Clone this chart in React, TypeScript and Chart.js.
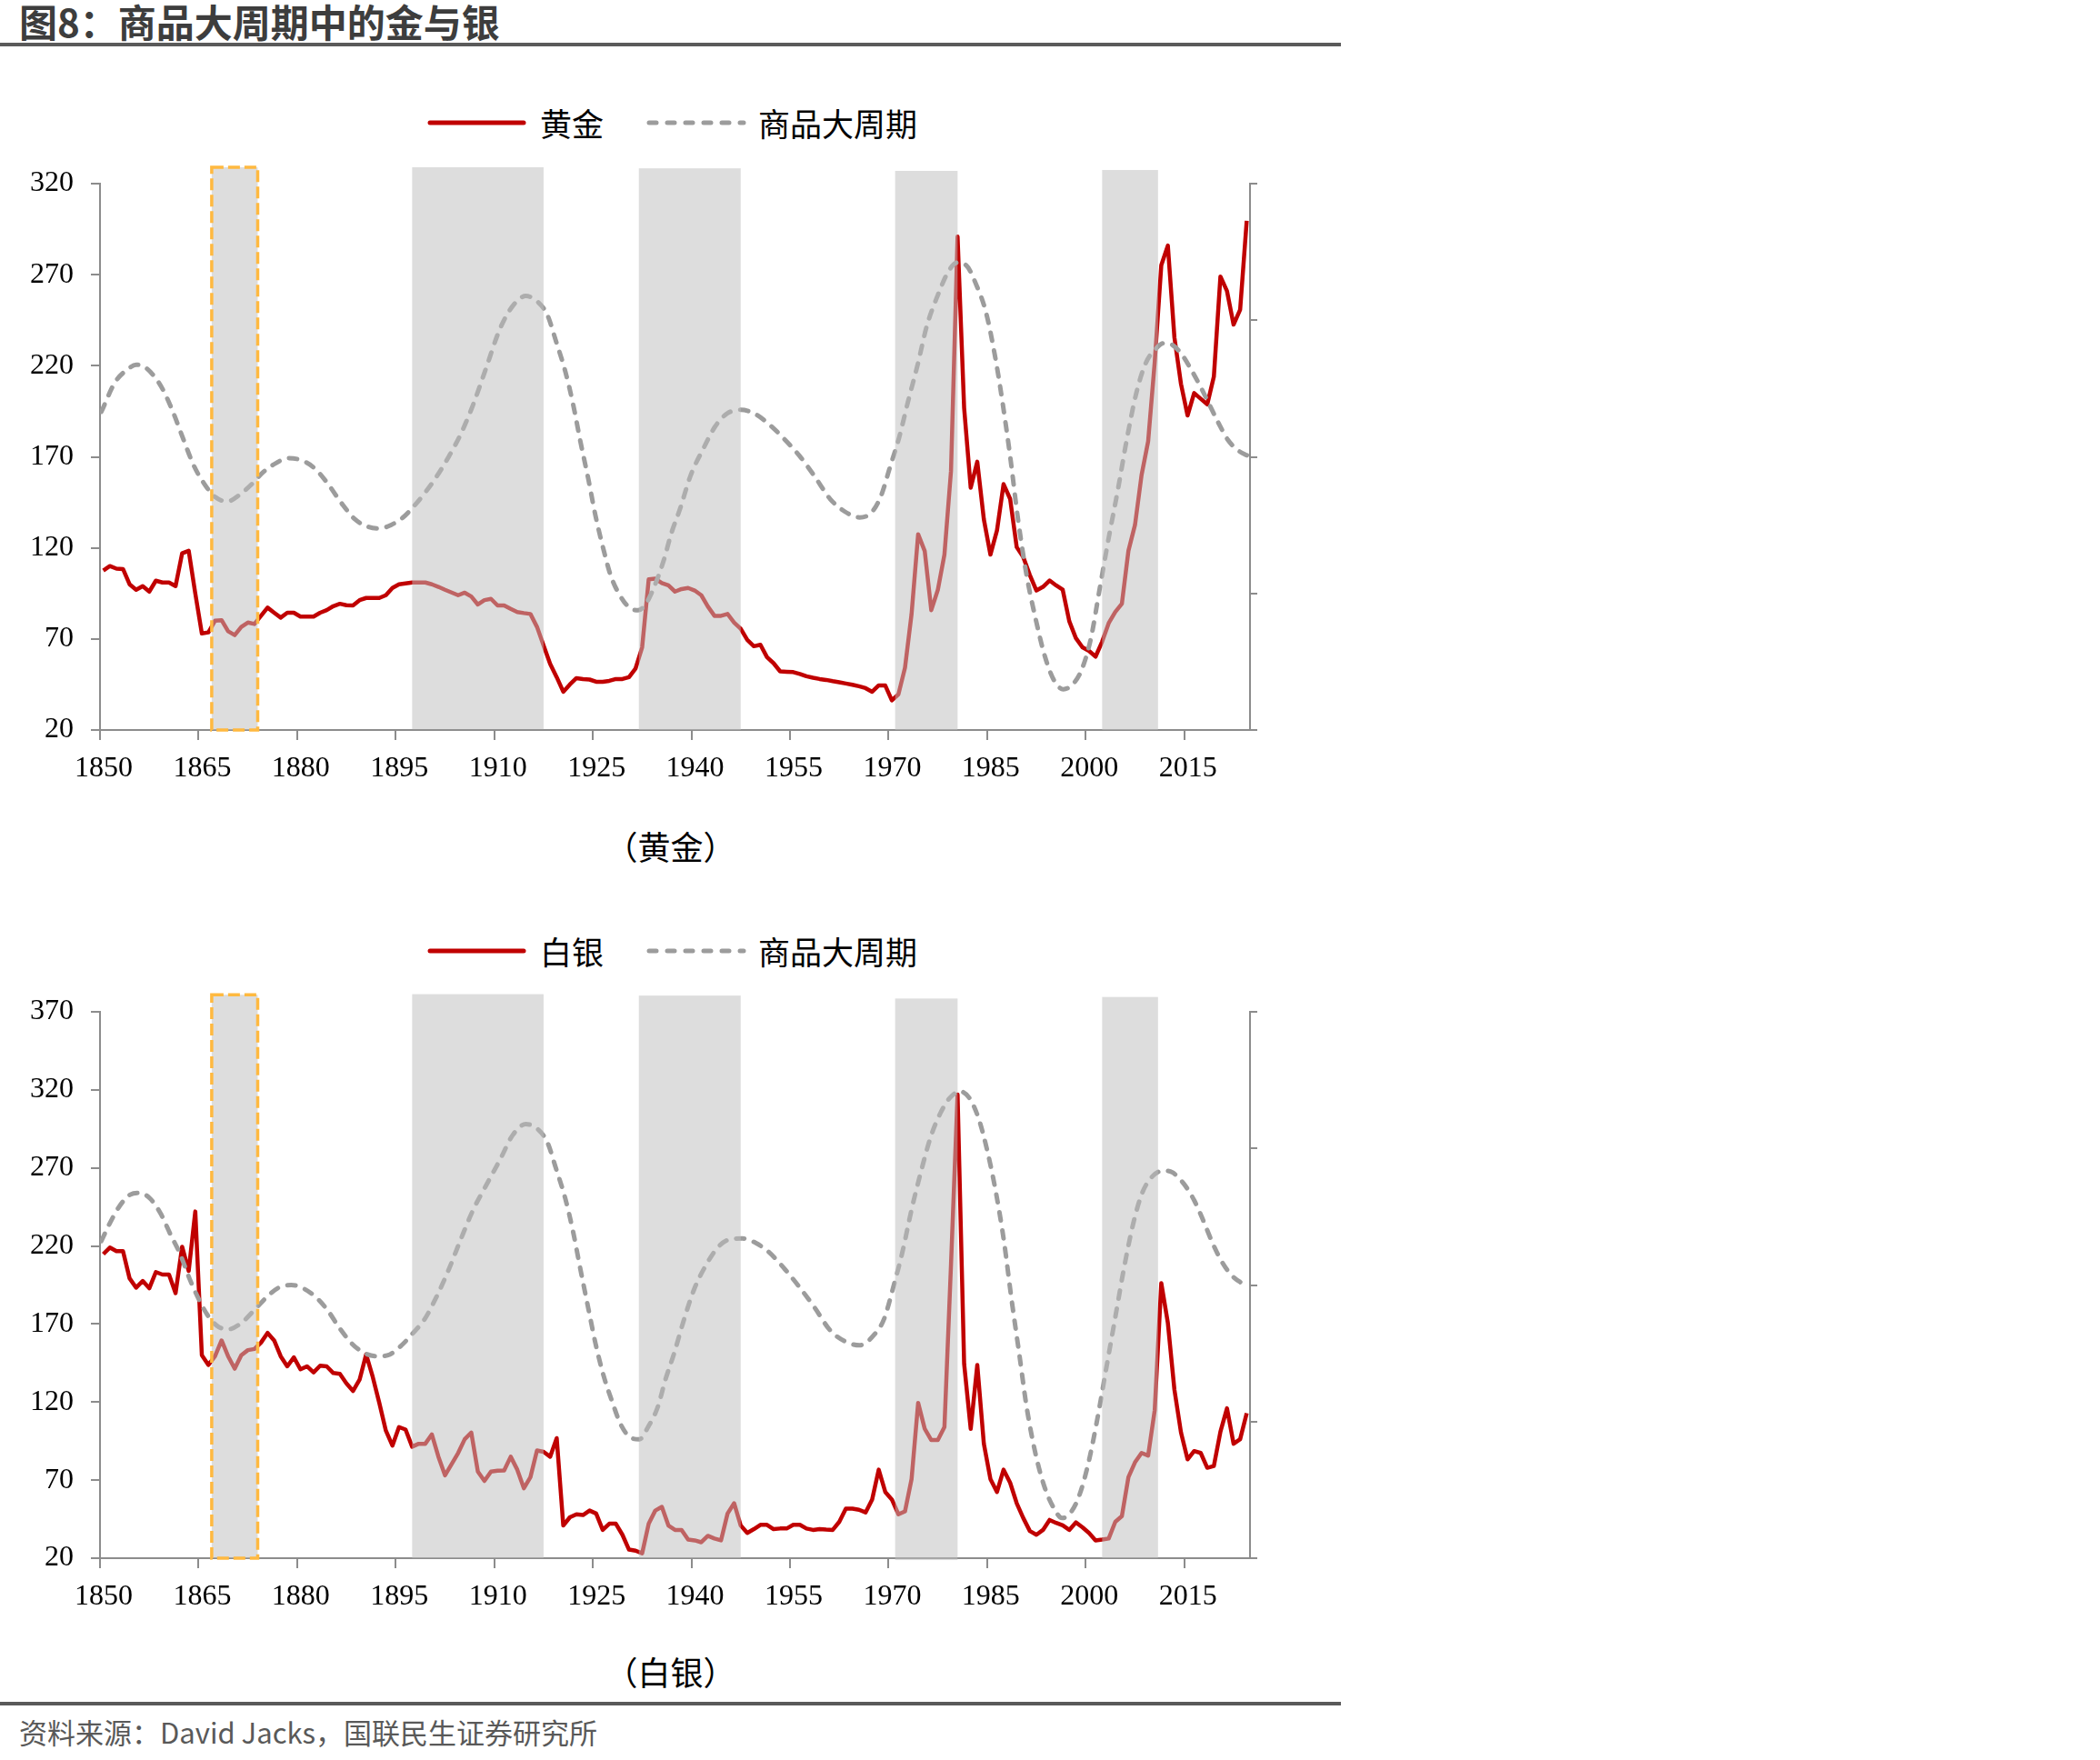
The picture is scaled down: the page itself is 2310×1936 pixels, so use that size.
import React, { useEffect, useRef } from "react";
import { Chart, registerables } from "chart.js";

Chart.register(...registerables);

// Annual series start year; each annual value sits in the middle of its year slot.
const FIRST_YEAR = 1850;
const AXIS_MIN = 1850;
const AXIS_MAX = 2025;

// Year labels shown on the horizontal axis
const yearTicks = [1850, 1865, 1880, 1895, 1910, 1925, 1940, 1955, 1970, 1985, 2000, 2015];

// Gold index, 1850–2024
const goldIndex = [
  107.6, 110, 108.6, 108.4, 100, 97, 99, 96, 102, 101,
  101, 99, 117, 118.4, 95, 73, 73.6, 80, 80.3, 74.2,
  72.1, 76.6, 79, 78.2, 82.7, 87.2, 84.4, 81.7, 84.4, 84.4,
  82.3, 82.3, 82.3, 84.4, 85.8, 88, 89.3, 88.5, 88.4, 91.3,
  92.5, 92.5, 92.5, 94, 98, 100, 100.5, 101, 101, 101,
  100, 98.6, 97, 95.5, 94, 95.4, 93.3, 88.9, 91.3, 92,
  88.4, 88.4, 86.5, 84.8, 84.2, 83.7, 76.6, 66.4, 56.3, 49,
  41, 45, 48.5, 48, 47.7, 46.5, 46.5, 47, 48, 48,
  49, 53.8, 65.4, 102.7, 103.1, 100.7, 99.4, 96, 97.4, 98,
  96.6, 94, 87.8, 82.7, 82.7, 83.7, 79, 75.6, 69.5, 66,
  66.8, 60, 56.7, 52.2, 52, 51.8, 50.8, 49.5, 48.7, 48,
  47.5, 46.8, 46.2, 45.5, 44.8, 44, 43, 41, 44.5, 44.4,
  36.3, 39.6, 54.2, 83.7, 127.5, 118.3, 85.8, 97, 116.3, 162.2,
  290.9, 196.8, 153, 167.3, 135.7, 116.3, 129.6, 155, 146.9, 120.4,
  114.9, 105.1, 96.6, 98.6, 102.1, 99.4, 97, 79.7, 70.5, 65.4,
  63.4, 60.3, 68.5, 78.7, 84.8, 89.3, 118.4, 132.6, 160, 178.5,
  222, 275.2, 286, 235.5, 210, 192.7, 205, 201.9, 198.8, 214,
  269, 261, 242.6, 250.8, 299.6,
];

// Silver index, 1850–2024
const silverIndex = [
  214.8, 219, 216.7, 216.7, 199.3, 193.3, 197.6, 192.9, 203.3, 201.7,
  201.7, 189.8, 219.5, 204, 242.1, 150, 143.8, 149.3, 159.5, 149.3,
  141.4, 150, 153.3, 154, 158.1, 164.3, 159.5, 149.3, 142.9, 148.6,
  141, 142.9, 139, 143.3, 142.9, 138.6, 138.1, 131.9, 127.1, 134.3,
  150.5, 136.2, 119.5, 101.7, 92.1, 104, 102.4, 91.4, 93.3, 93.3,
  99.3, 85, 73.1, 80.2, 87.4, 96.2, 100.5, 75.5, 69.5, 75.5,
  76, 76.2, 85, 76.7, 64.8, 71.9, 89, 88.1, 85, 96.9,
  40.9, 46.2, 48.1, 47.6, 50.5, 48.6, 38.1, 42.1, 42.1, 35,
  25.5, 24.8, 23.1, 42.1, 50.5, 52.9, 40.9, 38.1, 38.1, 31.9,
  31.4, 30.2, 34.3, 32.6, 31.4, 48.6, 55.2, 40.9, 36.2, 38.6,
  41.4, 41.4, 38.6, 39, 39, 41.4, 41.4, 39, 38.1, 38.6,
  38.3, 38.1, 43.3, 51.7, 51.7, 51, 49.3, 57.6, 76.7, 62.4,
  57.6, 48.1, 50, 70.7, 119.5, 102.9, 95.7, 95.7, 104, 208,
  317, 144.5, 102.9, 143.8, 93.3, 70.7, 62.4, 76.7, 68.3, 55.2,
  45.7, 37.4, 35, 38.1, 44.5, 42.6, 41, 38.1, 42.9, 39.8,
  36.2, 31.4, 31.9, 32.6, 43.3, 46.9, 71.9, 81.4, 87.4, 85.7,
  114.8, 196.2, 170.7, 127.9, 100.5, 83.3, 88.6, 87.4, 77.9, 79,
  101, 116, 93.3, 96.2, 112.9,
];

// Commodity super-cycle curve (secondary axis), sampled [year, value]
const goldCycle: [number, number][] = [
  [1850.2, 194.7], [1852.3, 211], [1854.2, 218], [1855.5, 220.6], [1856.7, 219.6], [1858.3, 214],
  [1859.7, 206], [1861.1, 194.7], [1862.7, 179.5], [1864.3, 165], [1865.9, 155], [1867.5, 148],
  [1869.4, 145.5], [1871.2, 149], [1873.1, 155], [1874.9, 161.8], [1876.8, 166.6], [1878.6, 169.3],
  [1880.5, 168.3], [1882.5, 164.2], [1884.6, 155.6], [1886.7, 144.8], [1888.8, 135.7], [1890.8, 131.6],
  [1892.5, 130.6], [1894.3, 132.6], [1896.1, 136.7], [1897.5, 141.8], [1899.4, 150], [1901.2, 159],
  [1903.1, 170.3], [1904.9, 182.5], [1906.8, 198.8], [1908.6, 217.1], [1910.9, 240.6], [1912.8, 252.8],
  [1914.8, 258.3], [1916.7, 254.8], [1918.1, 247.7], [1919.4, 233.4], [1920.8, 217], [1922, 198.8],
  [1923.1, 178.5], [1924.3, 158], [1925.4, 137.7], [1926.6, 119.4], [1927.7, 105], [1929.1, 94],
  [1930.7, 86.8], [1931.9, 85.8], [1933.2, 90], [1934.6, 101], [1935.8, 113.3], [1936.9, 127.5],
  [1938.3, 141.8], [1939.9, 160], [1941.8, 174.4], [1943.6, 186.6], [1945.4, 193.7], [1947.5, 195.8],
  [1949.6, 193.7], [1951.9, 187.6], [1954.2, 179.5], [1956.5, 170.3], [1958.8, 159], [1961.1, 146.9],
  [1963.4, 139.8], [1965.6, 136.7], [1967.5, 139.8], [1968.9, 149], [1970.2, 164.2], [1971.6, 180.5],
  [1973, 200.9], [1974.4, 220.2], [1975.8, 241.6], [1977.4, 257.9], [1979, 271.1], [1980.4, 276.6],
  [1981.8, 275.2], [1983.4, 264], [1984.8, 249.7], [1986.2, 225.3], [1987.3, 200.9], [1988.5, 170.3],
  [1989.7, 135.7], [1991, 105.1], [1992.4, 80.7], [1993.8, 60.3], [1995.2, 47.1], [1996.6, 42.4],
  [1998, 45], [1999.4, 53.2], [2000.8, 70.5], [2002.1, 97], [2003.5, 125.5], [2004.9, 152],
  [2006.3, 180.5], [2007.7, 205], [2009.1, 221.2], [2010.7, 229.4], [2011.9, 232.4], [2013.2, 231.4],
  [2014.6, 226.3], [2016, 218.2], [2017.4, 209], [2018.8, 198.8], [2020.2, 188.6], [2021.6, 179.5],
  [2023, 174], [2024.8, 170.3],
];

const silverCycle: [number, number][] = [
  [1850.2, 223.1], [1851.4, 233.8], [1853, 245.7], [1854.6, 252.9], [1856, 254], [1857.6, 250.5],
  [1859.2, 241], [1860.8, 226.7], [1862.2, 214.8], [1863.6, 199.3], [1865, 186.2], [1866.4, 175.5],
  [1868, 168.3], [1869.6, 166.7], [1871.5, 170.7], [1873.5, 179], [1875.4, 187.4], [1877.2, 193.3],
  [1879.1, 195], [1880.9, 192.9], [1882.8, 187.4], [1884.6, 179], [1886.5, 167.1], [1888.3, 157.6],
  [1890.1, 151.7], [1892.2, 149.3], [1894.1, 150.5], [1895.9, 156.4], [1897.5, 163.6], [1899.4, 173.1],
  [1901.2, 187.4], [1903.1, 205.2], [1904.9, 224.3], [1906.8, 243.3], [1908.6, 257.6], [1910.9, 275.5],
  [1912.8, 291], [1914.8, 298.1], [1916.7, 294.5], [1918.1, 286.2], [1919.4, 269.5], [1920.8, 250.5],
  [1922, 229], [1923.1, 205.2], [1924.3, 180.2], [1925.4, 157.6], [1926.6, 137.4], [1928, 119.5],
  [1929.3, 105.2], [1930.9, 96.9], [1932.1, 96.2], [1933.4, 104], [1934.9, 117.1], [1936, 133.8],
  [1937.4, 151.7], [1938.8, 171.9], [1940.4, 192.1], [1942.2, 207.6], [1944.1, 219.5], [1945.9, 224.3],
  [1947.7, 224.8], [1949.8, 221.9], [1951.8, 216], [1954.2, 205.2], [1956.5, 193.3], [1958.8, 180.2],
  [1961.1, 166], [1963.4, 158.8], [1965.6, 156.4], [1967.9, 163.6], [1969.3, 173.1], [1970.7, 193.3],
  [1972.1, 216], [1973.5, 243.3], [1974.9, 267.1], [1976.5, 291], [1977.9, 305.2], [1979.3, 314.8],
  [1980.9, 319], [1982.3, 314.8], [1983.7, 301.7], [1985, 281.4], [1986.4, 252.9], [1987.6, 221.9],
  [1988.7, 186.2], [1989.9, 150.5], [1991, 117.1], [1992.4, 86.2], [1993.8, 64.8], [1995.2, 51.7],
  [1996.4, 45.7], [1997.5, 48.1], [1998.9, 58.8], [2000.3, 79], [2001.7, 107.6], [2003.1, 141],
  [2004.5, 174.3], [2005.8, 205.2], [2007.2, 233.8], [2008.6, 254], [2010.2, 264.8], [2011.9, 268.3],
  [2013.2, 267.1], [2014.9, 260], [2016.5, 249.3], [2017.9, 236.2], [2019.3, 221.9], [2020.7, 210],
  [2022.1, 201.7], [2023.5, 196.9], [2024.8, 194.5],
];

// Shaded phases on the year axis; the first one is outlined
const phaseSpans: [number, number][] = [
  [1867, 1874], [1897.5, 1917.5], [1932, 1947.5], [1971, 1980.5], [2002.5, 2011],
];
const goldPhaseTops = [329, 329, 328.4, 327, 327.5];
const goldPhaseBottoms = [20, 20.4, 20, 20, 20];
const silverPhaseTops = [380.9, 381.3, 380.4, 378.5, 379.5];
const silverPhaseBottoms = [20, 20, 20, 18.8, 20];

const RED = "#C00000";
const CYCLE_GREY = "#9C9C9C";
const AXIS_GREY = "#8C8C8C";
const CJK = '"Noto Sans CJK SC", "Noto Sans", sans-serif';
const SERIF = '"Liberation Serif", "DejaVu Serif", serif';

const FIG_W = 1475;
const PAD_TOP = 42;
const X_AXIS_H = 77;
const LEFT_AXIS_W = 110;
const RIGHT_AXIS_W = 100;

type PanelProps = {
  name: string;
  caption: string;
  values: number[];
  cycle: [number, number][];
  yMax: number;
  rightStep: number;
  phaseTops: number[];
  phaseBottoms: number[];
  legendY: number;
  canvasTop: number;
  areaH: number;
  captionY: number;
};

function Panel(p: PanelProps) {
  const ref = useRef<HTMLCanvasElement>(null);
  const canvasH = PAD_TOP + p.areaH + X_AXIS_H;

  useEffect(() => {
    const canvas = ref.current;
    if (!canvas) return;

    const shading = {
      id: "phaseShading",
      afterDatasetsDraw(chart: any) {
        const { ctx } = chart;
        const xs = chart.scales.x;
        const ys = chart.scales.y;
        ctx.save();
        phaseSpans.forEach(([a, b], i) => {
          const x0 = xs.getPixelForValue(a);
          const x1 = xs.getPixelForValue(b);
          const yt = ys.getPixelForValue(p.phaseTops[i]);
          const yb = ys.getPixelForValue(p.phaseBottoms[i]);
          ctx.fillStyle = "rgba(190,190,190,0.52)";
          ctx.fillRect(x0, yt, x1 - x0, yb - yt);
          if (i === 0) {
            ctx.strokeStyle = "#FFB940";
            ctx.lineWidth = 3.5;
            ctx.setLineDash([13, 5]);
            ctx.strokeRect(x0, yt, x1 - x0, yb - yt);
            ctx.setLineDash([]);
          }
        });
        ctx.restore();
      },
    };

    const tickFont = { family: SERIF, size: 32 };

    const chart = new Chart(canvas, {
      type: "line",
      data: {
        datasets: [
          {
            label: "商品大周期",
            data: p.cycle.map(([x, y]) => ({ x, y })),
            yAxisID: "y2",
            borderColor: CYCLE_GREY,
            borderWidth: 5,
            borderDash: [9, 11],
            borderCapStyle: "round",
            cubicInterpolationMode: "monotone",
            pointRadius: 0,
            fill: false,
          },
          {
            label: p.name,
            data: p.values.map((v, i) => ({ x: FIRST_YEAR + i + 0.5, y: v })),
            yAxisID: "y",
            borderColor: RED,
            borderWidth: 4.5,
            borderJoinStyle: "round",
            pointRadius: 0,
            tension: 0,
            fill: false,
          },
        ],
      },
      options: {
        responsive: false,
        animation: false,
        events: [],
        layout: { padding: { top: PAD_TOP, left: 0, right: 0, bottom: 0 } },
        plugins: {
          legend: { display: false },
          tooltip: { enabled: false },
          title: { display: false },
        },
        scales: {
          x: {
            type: "linear",
            min: AXIS_MIN,
            max: AXIS_MAX,
            afterFit: (s: any) => {
              s.height = X_AXIS_H;
            },
            afterBuildTicks: (s: any) => {
              s.ticks = yearTicks.map((value) => ({ value }));
            },
            ticks: {
              autoSkip: false,
              maxRotation: 0,
              minRotation: 0,
              labelOffset: 4,
              padding: 12,
              color: "#000",
              font: tickFont,
              callback: (v: any) => String(v),
            },
            grid: {
              drawOnChartArea: false,
              drawTicks: true,
              tickLength: 11,
              color: AXIS_GREY,
              lineWidth: 2,
            },
            border: { display: true, color: AXIS_GREY, width: 2 },
          },
          y: {
            type: "linear",
            position: "left",
            min: 20,
            max: p.yMax,
            afterFit: (s: any) => {
              s.width = LEFT_AXIS_W;
            },
            ticks: {
              stepSize: 50,
              padding: 19,
              color: "#000",
              font: tickFont,
              callback: (v: any) => String(v),
            },
            grid: {
              drawOnChartArea: false,
              drawTicks: true,
              tickLength: 10,
              color: AXIS_GREY,
              lineWidth: 2,
            },
            border: { display: true, color: AXIS_GREY, width: 2 },
          },
          y2: {
            type: "linear",
            position: "right",
            display: true,
            min: 20,
            max: p.yMax,
            afterFit: (s: any) => {
              s.width = RIGHT_AXIS_W;
            },
            ticks: { stepSize: p.rightStep, display: false },
            grid: {
              drawOnChartArea: false,
              drawTicks: true,
              tickLength: 8,
              color: AXIS_GREY,
              lineWidth: 2,
            },
            border: { display: true, color: AXIS_GREY, width: 2 },
          },
        },
      } as any,
      plugins: [shading],
    });

    return () => chart.destroy();
  }, []);

  const legendText: React.CSSProperties = {
    position: "absolute",
    top: p.legendY - 25,
    height: 50,
    lineHeight: "50px",
    fontSize: 35,
    fontFamily: CJK,
    color: "#000",
    whiteSpace: "nowrap",
  };

  return (
    <>
      <svg
        width={FIG_W}
        height={20}
        style={{ position: "absolute", left: 0, top: p.legendY - 10 }}
      >
        <line x1={473} y1={10} x2={576} y2={10} stroke={RED} strokeWidth={5} strokeLinecap="round" />
        <line
          x1={714}
          y1={10}
          x2={818}
          y2={10}
          stroke={CYCLE_GREY}
          strokeWidth={5}
          strokeLinecap="round"
          strokeDasharray="8 12"
        />
      </svg>
      <div style={{ ...legendText, left: 594 }}>{p.name}</div>
      <div style={{ ...legendText, left: 834 }}>商品大周期</div>
      <canvas
        ref={ref}
        width={FIG_W}
        height={canvasH}
        style={{ position: "absolute", left: 0, top: p.canvasTop, width: FIG_W, height: canvasH }}
      />
      <div
        style={{
          position: "absolute",
          left: 0,
          width: FIG_W,
          top: p.captionY - 25,
          height: 50,
          lineHeight: "50px",
          textAlign: "center",
          fontSize: 36,
          fontFamily: CJK,
          color: "#000",
        }}
      >
        {p.caption}
      </div>
    </>
  );
}

export default function App() {
  return (
    <div
      style={{
        position: "absolute",
        left: 0,
        top: 0,
        width: 2310,
        height: 1936,
        background: "#fff",
        overflow: "hidden",
        fontFamily: CJK,
      }}
    >
      <div
        style={{
          position: "absolute",
          left: 21,
          top: 0,
          height: 46,
          lineHeight: "46px",
          fontSize: 42,
          fontWeight: 700,
          color: "#3D3D3D",
          whiteSpace: "nowrap",
        }}
      >
        图8：商品大周期中的金与银
      </div>
      <div style={{ position: "absolute", left: 0, top: 47, width: FIG_W, height: 4, background: "#5A5A5A" }} />

      <Panel
        name="黄金"
        caption="（黄金）"
        values={goldIndex}
        cycle={goldCycle}
        yMax={320}
        rightStep={75}
        phaseTops={goldPhaseTops}
        phaseBottoms={goldPhaseBottoms}
        legendY={135}
        canvasTop={160}
        areaH={601}
        captionY={930}
      />
      <Panel
        name="白银"
        caption="（白银）"
        values={silverIndex}
        cycle={silverCycle}
        yMax={370}
        rightStep={87.5}
        phaseTops={silverPhaseTops}
        phaseBottoms={silverPhaseBottoms}
        legendY={1046}
        canvasTop={1071}
        areaH={601}
        captionY={1838}
      />

      <div style={{ position: "absolute", left: 0, top: 1872, width: FIG_W, height: 4, background: "#5A5A5A" }} />
      <div
        style={{
          position: "absolute",
          left: 21,
          top: 1884,
          height: 42,
          lineHeight: "42px",
          fontSize: 31,
          color: "#595959",
          whiteSpace: "nowrap",
        }}
      >
        资料来源：David Jacks，国联民生证券研究所
      </div>
    </div>
  );
}
